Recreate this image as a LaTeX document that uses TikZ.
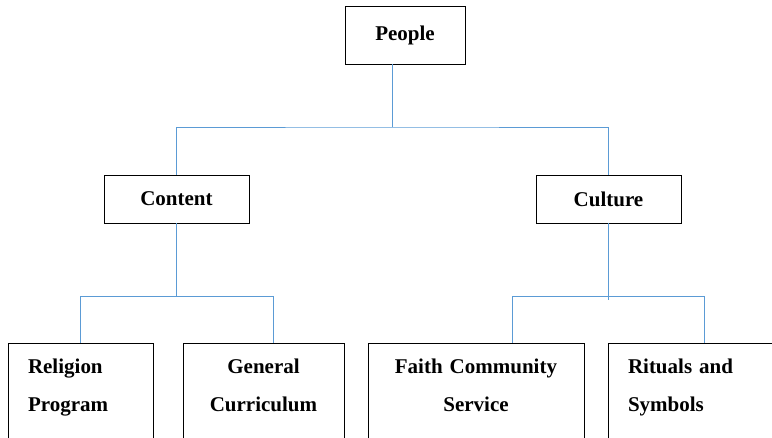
\documentclass[tikz,border=0pt]{standalone}
\usepackage{fontspec}
\setmainfont{Liberation Serif}
\usetikzlibrary{calc}
\definecolor{ink}{HTML}{000000}
\definecolor{wire}{HTML}{5B9BD5}
\newcommand{\boxfont}{\fontsize{21}{38}\selectfont\bfseries}
\tikzset{
 every node/.append style={font=\boxfont,text=ink},
 box/.style={draw=ink,fill=white,line width=.9pt,inner sep=0pt},
 head/.style={box,minimum width=120pt,minimum height=58pt},
 mid/.style={box,minimum width=145pt,minimum height=48pt},
 leaf/.style={box,anchor=north,inner xsep=20pt,text height=30pt,text depth=110pt},
 link/.style={draw=wire,line width=.9pt},
}

\begin{document}
\begin{tikzpicture}[x=1pt,y=-1pt]
\useasboundingbox (0,0) rectangle (772,438);

\node[head] (people) at (405,35) {People};
\node[mid] (content) at (176.5,199) {Content};
\node[mid] (culture) at (608.5,199) {Culture};

\node[leaf,text width=105pt,align=left] (religion) at (80.5,343) {Religion\\Program};
\node[leaf,text width=121pt,align=center] (general) at (263.5,343) {General\\Curriculum};
\node[leaf,text width=176pt,align=center] (faith) at (476,343) {Faith Community\\Service};
\node[leaf,text width=152pt,align=left] (rituals) at (704,343) {Rituals and\\Symbols};

\coordinate (split) at (392,127);
\draw[link] (split |- people.south) -- (split);
\draw[link] (content.north) |- (split) -| (culture.north);

\coordinate (leftbar) at ($(content.south)+(0,73)$);
\draw[link] (content.south) -- (leftbar);
\draw[link] (religion.north) |- (leftbar) -| ([xshift=9.5pt]general.north);

\coordinate (rightbar) at ($(culture.south)+(0,73)$);
\draw[link] (culture.south) -- ++(0,77);
\draw[link] ([xshift=36pt]faith.north) |- (rightbar) -| (rituals.north);
\end{tikzpicture}
\end{document}
